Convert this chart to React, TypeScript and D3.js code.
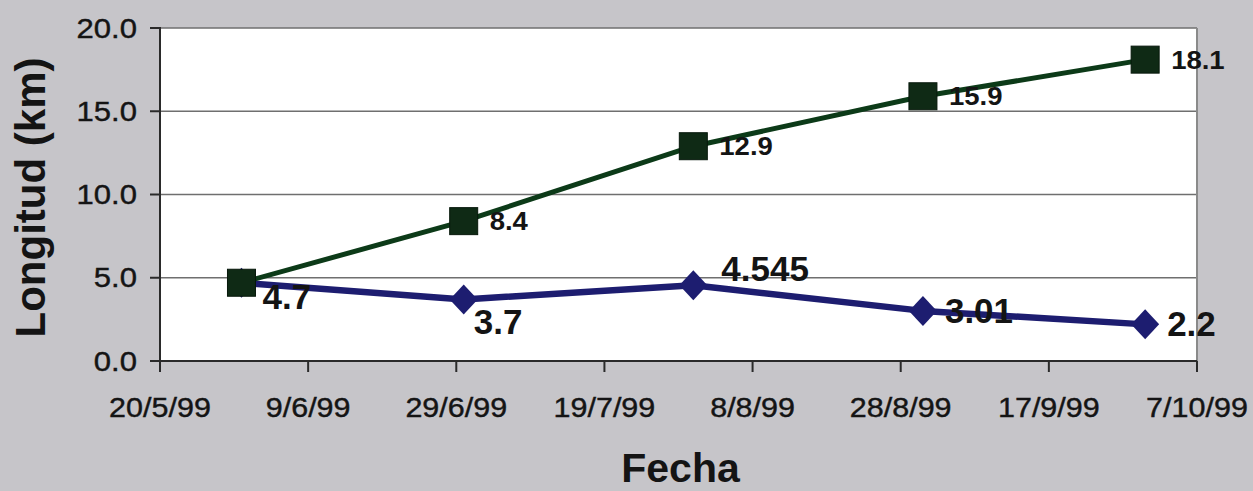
import React from "react";
import * as d3 from "d3";

// ---- data ----
const dates = ["31/5/99", "30/6/99", "31/7/99", "31/8/99", "30/9/99"];
const blueValues = [4.7, 3.7, 4.545, 3.01, 2.2];
const greenValues = [4.7, 8.4, 12.9, 15.9, 18.1];
const blueLabels = ["4.7", "3.7", "4.545", "3.01", "2.2"];
const greenLabels = ["", "8.4", "12.9", "15.9", "18.1"];
const blueLabelPlacement = ["belowRight", "below", "above", "right", "right"];
const greenLabelPlacement = ["right", "right", "right", "right", "right"];
const xTickLabels = ["20/5/99", "9/6/99", "29/6/99", "19/7/99", "8/8/99", "28/8/99", "17/9/99", "7/10/99"];
const yTickValues = [0, 5, 10, 15, 20];
const yTitle = "Longitud (km)";
const xTitle = "Fecha";

const parse = (s: string) => {
  const [d, m, y] = s.split("/").map(Number);
  return new Date(Date.UTC(1900 + y, m - 1, d));
};

const W = 1253;
const H = 491;
const M = { left: 160, right: 1197, top: 28, bottom: 361 };
const FONT = "'Liberation Sans', Arial, Helvetica, sans-serif";
const BG = "#c6c5c9";
const INK = "#141414";
const GREEN_LINE = "#0c3a18";
const GREEN_MARK = "#0f2a15";
const BLUE = "#1d1d70";

export default function App() {
  const xTicks = xTickLabels.map(parse);
  const x = d3.scaleUtc().domain([xTicks[0], xTicks[xTicks.length - 1]]).range([M.left, M.right]);
  const y = d3.scaleLinear().domain([0, 20]).range([M.bottom, M.top]);
  const pts = dates.map(parse);

  const line = d3
    .line<[Date, number]>()
    .x((d) => x(d[0]))
    .y((d) => y(d[1]));

  const blueData: [Date, number][] = pts.map((p, i) => [p, blueValues[i]]);
  const greenData: [Date, number][] = pts.map((p, i) => [p, greenValues[i]]);

  const labelPos = (px: number, py: number, place: string, big: boolean) => {
    if (place === "belowRight") return { lx: px + 21, ly: py + 26 };
    if (place === "below") return { lx: px + 10, ly: py + 35 };
    if (place === "above") return { lx: px + 28, ly: py - 4 };
    return big ? { lx: px + 22, ly: py + 12 } : { lx: px + 26, ly: py + 9 };
  };

  return (
    <svg
      width={W}
      height={H}
      style={{ position: "absolute", left: 0, top: 0, display: "block" }}
      fontFamily={FONT}
    >
      <rect x={0} y={0} width={W} height={H} fill={BG} />
      {/* plot area */}
      <rect x={M.left} y={M.top} width={M.right - M.left} height={M.bottom - M.top} fill="#ffffff" />
      {/* gridlines */}
      {yTickValues
        .filter((v) => v > 0)
        .map((v) => (
          <line key={v} x1={M.left} x2={M.right} y1={y(v)} y2={y(v)} stroke="#6f6f6f" strokeWidth={1.6} />
        ))}
      {/* right border */}
      <line x1={M.right} x2={M.right} y1={M.top} y2={M.bottom} stroke="#8a8a8a" strokeWidth={2} />
      {/* axes */}
      <line x1={M.left} x2={M.left} y1={M.top - 1} y2={M.bottom} stroke="#2a2a2a" strokeWidth={2} />
      <line x1={M.left - 10} x2={M.right} y1={M.bottom} y2={M.bottom} stroke="#2a2a2a" strokeWidth={2} />
      {yTickValues.map((v) => (
        <g key={"yt" + v}>
          <line x1={M.left - 10} x2={M.left} y1={y(v)} y2={y(v)} stroke="#2a2a2a" strokeWidth={2} />
          <g transform={`translate(${M.left - 23},${y(v) + 9.5}) scale(1.15,1)`}>
            <text textAnchor="end" fontSize={27} fill={INK} stroke={INK} strokeWidth={0.4}>
              {v.toFixed(1)}
            </text>
          </g>
        </g>
      ))}
      {xTicks.map((t, i) => (
        <g key={"xt" + i}>
          <line x1={x(t)} x2={x(t)} y1={M.bottom} y2={M.bottom + 11} stroke="#2a2a2a" strokeWidth={2} />
          <g transform={`translate(${x(t)},${M.bottom + 56}) scale(1.13,1)`}>
            <text textAnchor="middle" fontSize={27} fill={INK} stroke={INK} strokeWidth={0.4}>
              {xTickLabels[i]}
            </text>
          </g>
        </g>
      ))}
      {/* series lines */}
      <path d={line(blueData) || ""} fill="none" stroke={BLUE} strokeWidth={6.5} strokeLinejoin="round" />
      {blueData.map((d, i) => {
        const cx = x(d[0]);
        const cy = y(d[1]);
        return (
          <path
            key={"bd" + i}
            d={`M${cx},${cy - 15} L${cx + 14},${cy} L${cx},${cy + 15} L${cx - 14},${cy} Z`}
            fill={BLUE}
          />
        );
      })}
      <path d={line(greenData) || ""} fill="none" stroke={GREEN_LINE} strokeWidth={5} strokeLinejoin="round" />
      {greenData.map((d, i) => {
        const cx = x(d[0]);
        const cy = y(d[1]);
        return (
          <rect key={"gs" + i} x={cx - 14} y={cy - 13.5} width={28} height={27} fill={GREEN_MARK} stroke="#07180b" strokeWidth={1} />
        );
      })}
      {/* labels */}
      {greenData.map((d, i) => {
        if (!greenLabels[i]) return null;
        const { lx, ly } = labelPos(x(d[0]), y(d[1]), greenLabelPlacement[i], false);
        return (
          <g key={"gl" + i} transform={`translate(${lx},${ly}) scale(1.1,1)`}>
            <text fontSize={25} fontWeight="bold" fill={INK}>
              {greenLabels[i]}
            </text>
          </g>
        );
      })}
      {blueData.map((d, i) => {
        const { lx, ly } = labelPos(x(d[0]), y(d[1]), blueLabelPlacement[i], true);
        return (
          <text key={"bl" + i} x={lx} y={ly} fontSize={35} fontWeight="bold" fill={INK}>
            {blueLabels[i]}
          </text>
        );
      })}
      {/* titles */}
      <text
        transform={`translate(45,${(M.top + M.bottom) / 2 + 3}) rotate(-90)`}
        textAnchor="middle"
        fontSize={42}
        fontWeight="bold"
        fill={INK}
      >
        {yTitle}
      </text>
      <text x={(M.left + M.right) / 2 + 2} y={482} textAnchor="middle" fontSize={41} fontWeight="bold" fill={INK}>
        {xTitle}
      </text>
    </svg>
  );
}
